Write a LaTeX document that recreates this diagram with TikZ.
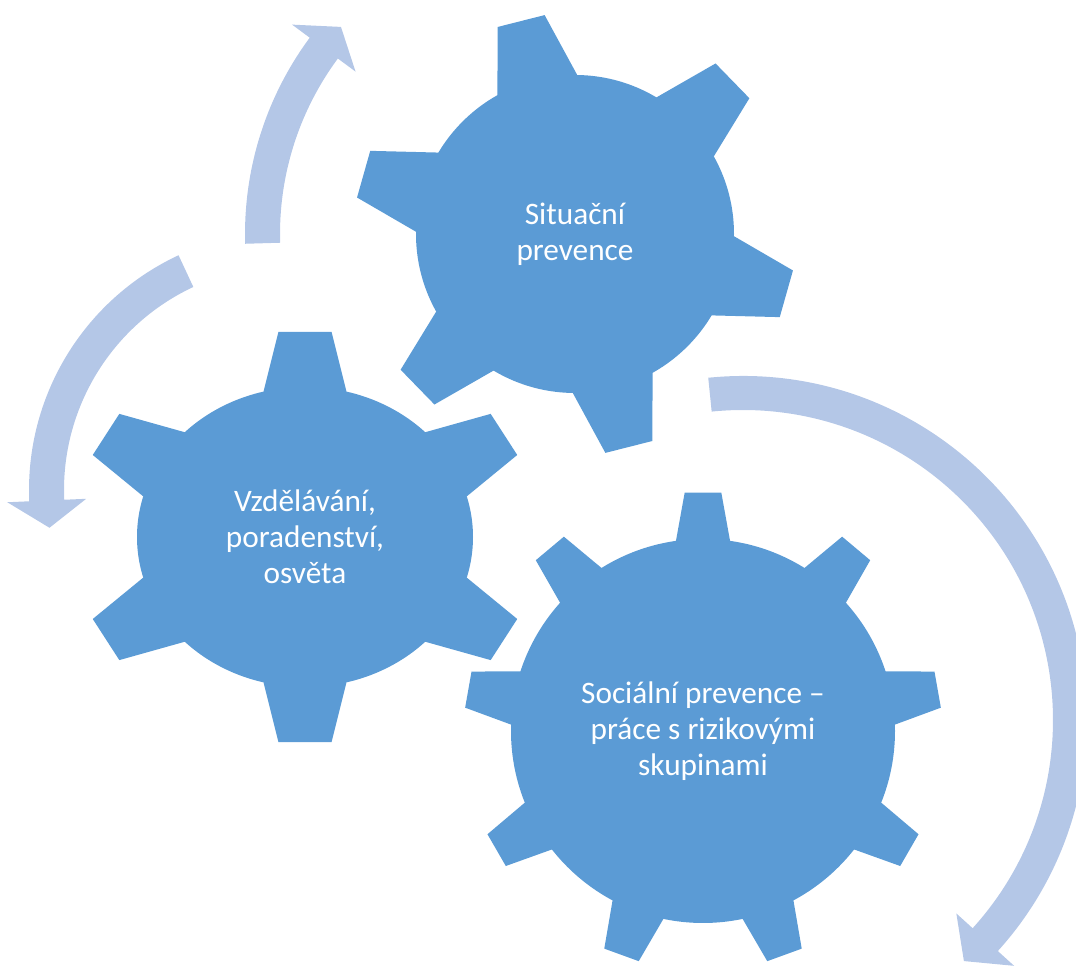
\documentclass[tikz,border=0pt]{standalone}
\usepackage{fontspec}
\setmainfont{Carlito}
\usepackage{tikz}
\usetikzlibrary{calc}
\definecolor{gearblue}{HTML}{5B9BD5}
\definecolor{arrowblue}{HTML}{B4C7E7}

% gear: centre, teeth, first tooth angle, r body, r tip, base half angle, tip half angle, xscale
\newcommand{\gearwheel}[8]{%
  \begin{scope}[shift={(#1)}, xscale=#8]
    \fill[gearblue] (0,0) circle[radius=#4];
    \foreach \i in {1,...,#2} {
      \pgfmathsetmacro{\a}{#3+360/#2*(\i-1)}
      \pgfmathsetmacro{\bl}{\a-#6}
      \pgfmathsetmacro{\br}{\a+#6}
      \pgfmathsetmacro{\tl}{\a-#7}
      \pgfmathsetmacro{\tr}{\a+#7}
      \fill[gearblue] (0,0) -- (\bl:#4) -- (\tl:#5) -- (\tr:#5) -- (\br:#4) -- cycle;
    }
  \end{scope}}

% arrow: centre, r in, r out, start angle, end angle, tip angle
\newcommand{\cyclearrow}[6]{%
  \begin{scope}[shift={(#1)}]
    \pgfmathsetmacro{\rbo}{#3+22}
    \pgfmathsetmacro{\rbi}{#2-22}
    \pgfmathsetmacro{\rmid}{(#2+#3)/2}
    \fill[arrowblue] (#4:#3) arc[start angle=#4, end angle=#5, radius=#3]
      -- (#5:\rbo) -- (#6:\rmid) -- (#5:\rbi) -- (#5:#2)
      arc[start angle=#5, end angle=#4, radius=#2] -- cycle;
  \end{scope}}

\tikzset{
  gearlabel/.style={text=white, align=center, inner sep=0pt,
    font=\fontsize{17.8}{20.6}\selectfont}
}

\begin{document}
\begin{tikzpicture}[x=0.02cm, y=0.02cm]
\useasboundingbox (0,0) rectangle (1076,966);
\clip (0,0) rectangle (1076,966);

\coordinate (situacni) at (575,732);
\coordinate (vzdelavani) at (305,429);
\coordinate (socialni) at (703,235);
\coordinate (arrowtop) at (575,732);
\coordinate (arrowleft) at (288,476);
\coordinate (arrowright) at (743,246);

\cyclearrow{arrowtop}{295}{330}{181.7}{143.5}{138.5}
\cyclearrow{arrowleft}{224}{259}{115}{182.5}{189}
\cyclearrow{arrowright}{310}{344}{95.8}{-42.2}{-47.5}

\gearwheel{situacni}{6}{104.2}{159}{221}{15}{6.3}{1}
\gearwheel{vzdelavani}{6}{90}{150}{206.5}{14.3}{6.6}{1.12}
\gearwheel{socialni}{9}{90}{192}{239}{8.1}{4.4}{1}

\node[gearlabel] (situacnitext) at (situacni) {Situační\\prevence};
\node[gearlabel] (vzdelavanitext) at (vzdelavani) {Vzdělávání,\\poradenství,\\osvěta};
\node[gearlabel] (socialnitext) at (socialni) {Sociální prevence –\\práce s rizikovými\\skupinami};
\end{tikzpicture}
\end{document}
